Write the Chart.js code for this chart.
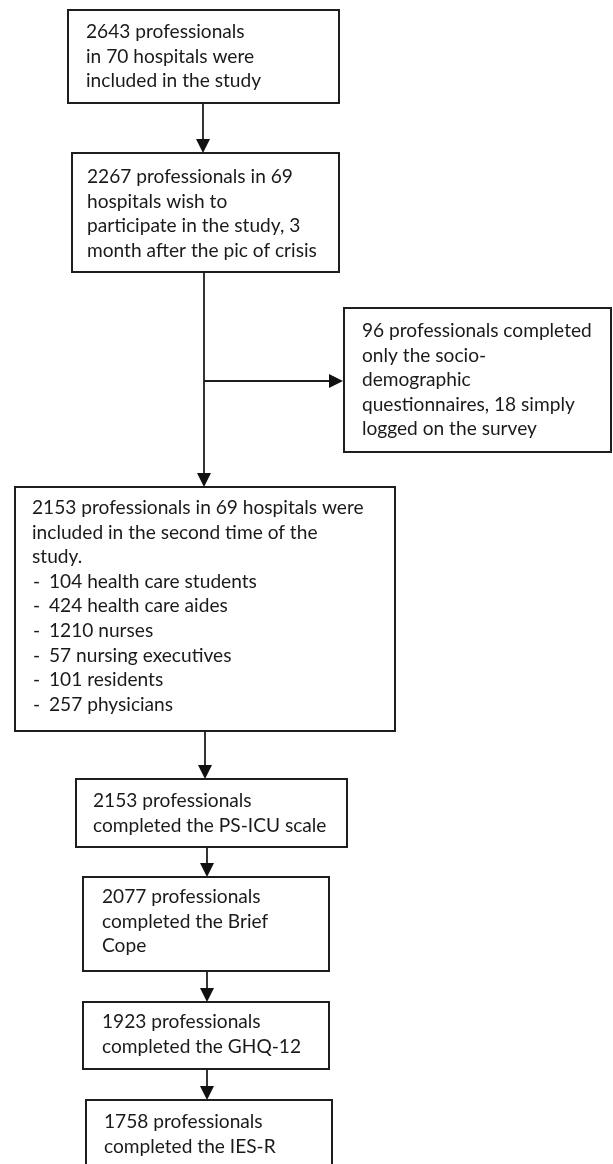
<!DOCTYPE html>
<html>
<head>
<meta charset="utf-8">
<script src="https://cdn.jsdelivr.net/npm/chart.js@4.4.1/dist/chart.umd.min.js"></script>
<style>
  html, body { margin: 0; padding: 0; background: #ffffff; }
  #wrap { position: relative; width: 613px; height: 1164px; }
</style>
</head>
<body>
<div id="wrap"><canvas id="c"></canvas></div>
<script>
// ---------------- DATA ----------------
const stageNames = ['Included', 'Wish to participate', 'Partial responders', 'Second time', 'PS-ICU', 'Brief Cope', 'GHQ-12', 'IES-R'];
const professionals = [2643, 2267, 96, 2153, 2153, 2077, 1923, 1758];
const hospitals = [70, 69, null, 69, null, null, null, null];
const loggedOnly = 18;
const monthsAfterPeak = 3;
const professionCategories = ['health care students', 'health care aides', 'nurses', 'nursing executives', 'residents', 'physicians'];
const professionCounts = [104, 424, 1210, 57, 101, 257];

// ---------------- TEXT built from data ----------------
const boxTexts = [
  [`${professionals[0]} professionals`, `in ${hospitals[0]} hospitals were`, 'included in the study'],
  [`${professionals[1]} professionals in ${hospitals[1]}`, 'hospitals wish to', `participate in the study, ${monthsAfterPeak}`, 'month after the pic of crisis'],
  [`${professionals[2]} professionals completed`, 'only the socio-', 'demographic', `questionnaires, ${loggedOnly} simply`, 'logged on the survey'],
  [`${professionals[3]} professionals in ${hospitals[3]} hospitals were`, 'included in the second time of the', 'study.']
    .concat(professionCategories.map((c, i) => ({ bullet: '-', text: `${professionCounts[i]} ${c}` }))),
  [`${professionals[4]} professionals`, 'completed the PS-ICU scale'],
  [`${professionals[5]} professionals`, 'completed the Brief', 'Cope'],
  [`${professionals[6]} professionals`, 'completed the GHQ-12'],
  [`${professionals[7]} professionals`, 'completed the IES-R']
];

// ---------------- LAYOUT (chart units) ----------------
const boxLayout = [
  { l: 68, t: 10, r: 339, b: 103, tx: 86, ty: 38 },
  { l: 72, t: 153, r: 339, b: 272, tx: 87, ty: 183 },
  { l: 344, t: 308, r: 611, b: 452, tx: 362, ty: 337 },
  { l: 15, t: 487, r: 395, b: 731, tx: 32, ty: 514, bx: 49 },
  { l: 76, t: 779, r: 347, b: 847, tx: 93, ty: 807 },
  { l: 83, t: 877, r: 329, b: 971, tx: 102, ty: 903 },
  { l: 83, t: 1002, r: 329, b: 1069, tx: 102, ty: 1028 },
  { l: 86, t: 1100, r: 332, b: 1185, tx: 104, ty: 1128 }
];
const connectors = [
  { x1: 203, y1: 103, x2: 203, y2: 153, head: true },
  { x1: 204, y1: 272, x2: 204, y2: 487, head: true },
  { x1: 204, y1: 381, x2: 343, y2: 381, head: true },
  { x1: 205, y1: 731, x2: 205, y2: 779, head: true },
  { x1: 207, y1: 847, x2: 207, y2: 877, head: true },
  { x1: 207, y1: 971, x2: 207, y2: 1002, head: true },
  { x1: 207, y1: 1069, x2: 207, y2: 1100, head: true }
];
const LINE_GAP = 24.6;
const FONT_FAMILY = 'Lato, "Open Sans", sans-serif';
const REF_TEXT_WIDTH = 230; // width of "96 professionals completed" in reference

const flowPlugin = {
  id: 'flow',
  afterDraw(chart) {
    const ctx = chart.ctx;
    const xs = chart.scales.x, ys = chart.scales.y;
    const px = v => xs.getPixelForValue(v);
    const py = v => ys.getPixelForValue(v);
    ctx.save();
    // fit font size
    ctx.font = `100px ${FONT_FAMILY}`;
    const w = ctx.measureText(boxTexts[2][0]).width;
    const fs = 100 * REF_TEXT_WIDTH / w;
    const unit = Math.abs(py(1) - py(0));

    // boxes
    ctx.strokeStyle = '#1e1e1e';
    ctx.lineWidth = 2;
    boxLayout.forEach(b => {
      ctx.fillStyle = '#ffffff';
      ctx.fillRect(px(b.l), py(b.t), px(b.r) - px(b.l), py(b.b) - py(b.t));
      ctx.strokeRect(px(b.l), py(b.t), px(b.r) - px(b.l), py(b.b) - py(b.t));
    });

    // connectors
    ctx.lineWidth = 1.8;
    ctx.fillStyle = '#111111';
    connectors.forEach(c => {
      const x1 = px(c.x1), y1 = py(c.y1), x2 = px(c.x2), y2 = py(c.y2);
      const ang = Math.atan2(y2 - y1, x2 - x1);
      const hl = 14 * unit, hw = 7 * unit;
      const bxp = x2 - Math.cos(ang) * hl, byp = y2 - Math.sin(ang) * hl;
      ctx.beginPath();
      ctx.moveTo(x1, y1);
      ctx.lineTo(bxp, byp);
      ctx.stroke();
      ctx.beginPath();
      ctx.moveTo(x2, y2);
      ctx.lineTo(bxp + Math.sin(ang) * hw, byp - Math.cos(ang) * hw);
      ctx.lineTo(bxp - Math.sin(ang) * hw, byp + Math.cos(ang) * hw);
      ctx.closePath();
      ctx.fill();
    });

    // text
    ctx.font = `${fs}px ${FONT_FAMILY}`;
    ctx.fillStyle = '#1a1a1a';
    ctx.textBaseline = 'alphabetic';
    ctx.textAlign = 'left';
    boxTexts.forEach((lines, i) => {
      const b = boxLayout[i];
      lines.forEach((ln, j) => {
        const y = py(b.ty + j * LINE_GAP);
        if (typeof ln === 'string') {
          ctx.fillText(ln, px(b.tx), y);
        } else {
          ctx.fillText(ln.bullet, px(b.tx + 1), y);
          ctx.fillText(ln.text, px(b.bx), y);
        }
      });
    });
    ctx.restore();
  }
};

new Chart(document.getElementById('c'), {
  type: 'scatter',
  data: {
    labels: stageNames,
    datasets: [{
      label: 'Professionals',
      data: [],
      pointRadius: 0
    }]
  },
  options: {
    responsive: true,
    maintainAspectRatio: false,
    animation: false,
    layout: { padding: 0 },
    plugins: { legend: { display: false }, tooltip: { enabled: false } },
    scales: {
      x: { type: 'linear', min: 0, max: 613, display: false },
      y: { type: 'linear', min: 0, max: 1164, reverse: true, display: false }
    }
  },
  plugins: [flowPlugin]
});
</script>
</body>
</html>
